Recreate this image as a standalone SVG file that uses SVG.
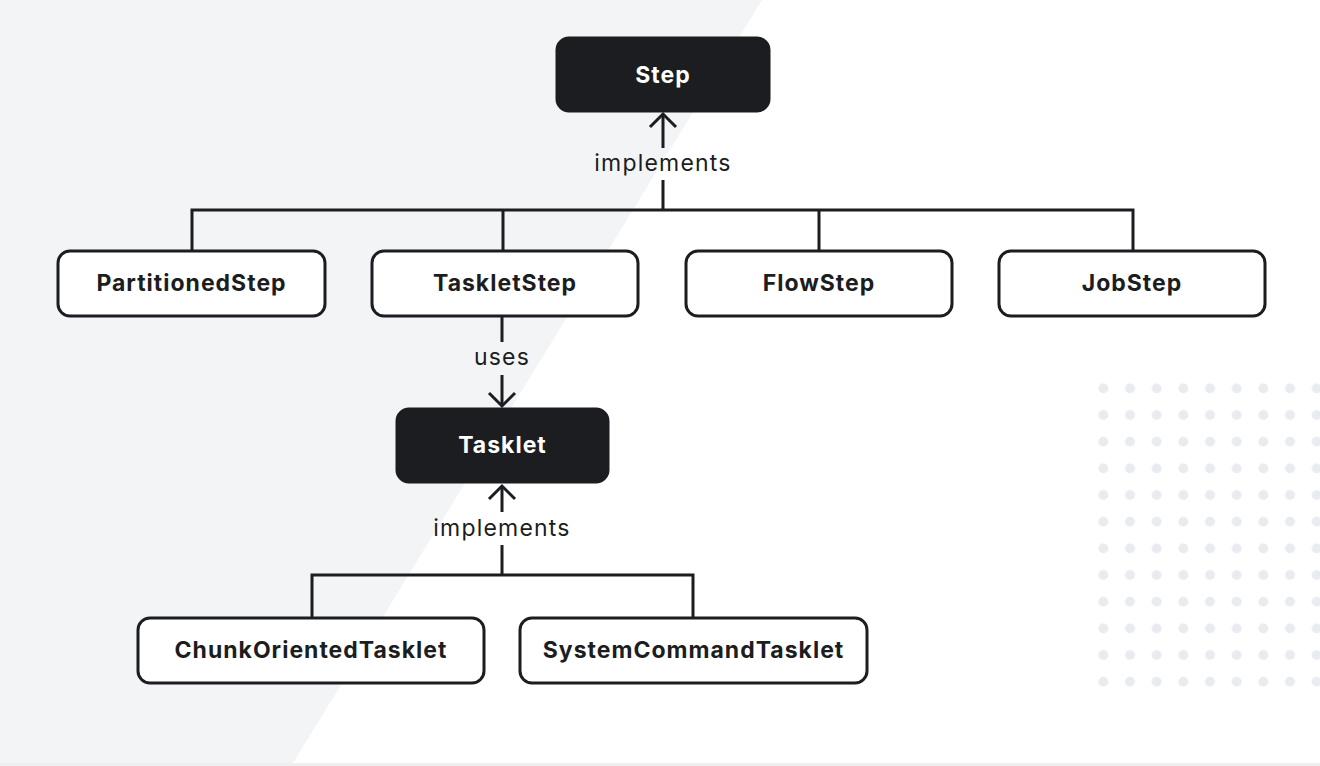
<svg xmlns="http://www.w3.org/2000/svg" width="1320" height="766" viewBox="0 0 1320 766">
<defs>
<style>
.bg{fill:#f3f4f6}
.dot{fill:#e8ebef}
.box{fill:#ffffff;stroke:#1b1d20;stroke-width:3}
.dark{fill:#1b1d20;stroke:#1b1d20;stroke-width:3}
.lbl{font-family:Inter,"Liberation Sans",sans-serif;font-weight:700;font-size:23px;letter-spacing:1px;text-anchor:middle;dominant-baseline:central}
.lbl-d{fill:#1b1d20}
.lbl-w{fill:#ffffff}
.edge{fill:none;stroke:#1b1d20;stroke-width:3}
.elbl{font-family:Inter,"Liberation Sans",sans-serif;font-weight:400;font-size:23px;letter-spacing:1.2px;fill:#1b1d20;text-anchor:middle;dominant-baseline:central}
</style>
<pattern id="dots" x="1090" y="375" width="26.67" height="26.67" patternUnits="userSpaceOnUse">
<circle cx="13.33" cy="13.33" r="5" class="dot"/>
</pattern>
</defs>
<rect width="1320" height="766" fill="#ffffff"/>
<polygon class="bg" points="0,0 762,0 293,763 0,763"/>
<rect x="0" y="763" width="1320" height="3" fill="#efefef"/>
<rect x="1090" y="375" width="230" height="320" fill="url(#dots)"/>

<g id="connectors">
<path class="edge" d="M663,148 V114"/>
<path class="edge" d="M650,127 L663,114 L676,127"/>
<path class="edge" d="M663,180 V210"/>
<path class="edge" d="M192,250 V210 H1133 V250"/>
<path class="edge" d="M503,210 V250"/>
<path class="edge" d="M819,210 V250"/>
<text class="elbl" x="663" y="163">implements</text>
<path class="edge" d="M502,317 V342"/>
<path class="edge" d="M502,375 V406"/>
<path class="edge" d="M489,393 L502,406 L515,393"/>
<text class="elbl" x="502" y="357">uses</text>
<path class="edge" d="M502,512 V486"/>
<path class="edge" d="M489,499 L502,486 L515,499"/>
<path class="edge" d="M502,545 V575"/>
<path class="edge" d="M312,617 V575 H693 V617"/>
<text class="elbl" x="502" y="528">implements</text>
</g>

<g id="node-step">
<rect class="dark" x="557" y="38" width="212" height="73" rx="12"/>
<text class="lbl lbl-w" x="663" y="75">Step</text>
</g>
<g id="node-partitionedstep">
<rect class="box" x="58" y="251" width="267" height="65" rx="12"/>
<text class="lbl lbl-d" x="191.5" y="283">PartitionedStep</text>
</g>
<g id="node-taskletstep">
<rect class="box" x="372" y="251" width="266" height="65" rx="12"/>
<text class="lbl lbl-d" x="505" y="283">TaskletStep</text>
</g>
<g id="node-flowstep">
<rect class="box" x="686" y="251" width="266" height="65" rx="12"/>
<text class="lbl lbl-d" x="819" y="283">FlowStep</text>
</g>
<g id="node-jobstep">
<rect class="box" x="999" y="251" width="266" height="65" rx="12"/>
<text class="lbl lbl-d" x="1132" y="283">JobStep</text>
</g>
<g id="node-tasklet">
<rect class="dark" x="397" y="409" width="211" height="73" rx="12"/>
<text class="lbl lbl-w" x="502.5" y="445">Tasklet</text>
</g>
<g id="node-chunkorientedtasklet">
<rect class="box" x="138" y="618" width="346" height="65" rx="12"/>
<text class="lbl lbl-d" x="311" y="650">ChunkOrientedTasklet</text>
</g>
<g id="node-systemcommandtasklet">
<rect class="box" x="520" y="618" width="347" height="65" rx="12"/>
<text class="lbl lbl-d" x="693.5" y="650">SystemCommandTasklet</text>
</g>
</svg>
